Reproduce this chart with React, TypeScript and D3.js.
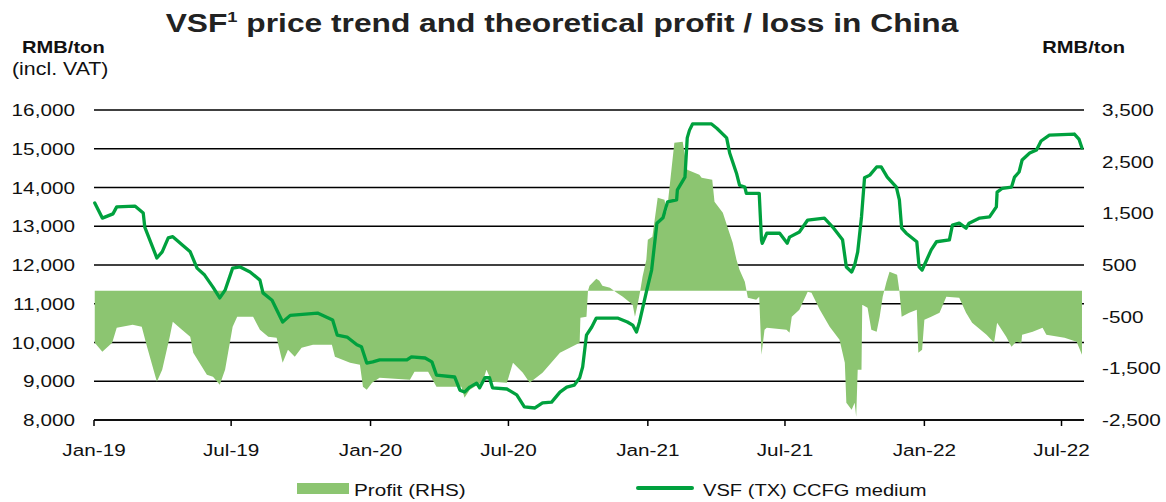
import React from 'react';
import * as d3 from 'd3';

const W = 1166;
const H = 502;
const SX = 1.22; // the reference text is stretched horizontally
const FONT = '"Liberation Sans", Arial, sans-serif';
const LINE_COLOR = '#00a13e';
const BAR_COLOR = '#8cc571';

const leftTicks = [8000, 9000, 10000, 11000, 12000, 13000, 14000, 15000, 16000];
const rightTicks = [-2500, -1500, -500, 500, 1500, 2500, 3500];
const xTickDates = ['2019-01-01', '2019-07-01', '2020-01-01', '2020-07-01', '2021-01-01', '2021-07-01', '2022-01-01', '2022-07-01'];
const xTickLabels = ['Jan-19', 'Jul-19', 'Jan-20', 'Jul-20', 'Jan-21', 'Jul-21', 'Jan-22', 'Jul-22'];

// VSF (TX) CCFG medium, RMB/ton (LHS)
const priceSeries: [string, number][] = [
  ['2019-01-02', 13600], ['2019-01-12', 13210], ['2019-01-26', 13320], ['2019-01-31', 13500],
  ['2019-02-24', 13520], ['2019-03-07', 13340], ['2019-03-09', 12980], ['2019-03-25', 12180],
  ['2019-04-01', 12340], ['2019-04-09', 12700], ['2019-04-15', 12730], ['2019-04-28', 12510],
  ['2019-05-08', 12340], ['2019-05-17', 11920], ['2019-05-27', 11740], ['2019-06-07', 11430],
  ['2019-06-16', 11150], ['2019-06-23', 11350], ['2019-07-03', 11920], ['2019-07-13', 11950],
  ['2019-07-26', 11820], ['2019-08-08', 11610], ['2019-08-12', 11280], ['2019-08-24', 11090],
  ['2019-09-07', 10530], ['2019-09-17', 10700], ['2019-10-23', 10760], ['2019-11-12', 10580],
  ['2019-11-18', 10190], ['2019-12-01', 10140], ['2019-12-14', 9940], ['2019-12-20', 9890],
  ['2019-12-27', 9470], ['2020-01-04', 9500], ['2020-01-13', 9550], ['2020-02-18', 9550],
  ['2020-02-24', 9630], ['2020-03-13', 9600], ['2020-03-22', 9500], ['2020-03-28', 9160],
  ['2020-04-21', 9110], ['2020-04-28', 8770], ['2020-05-04', 8720], ['2020-05-11', 8850],
  ['2020-05-20', 8950], ['2020-05-24', 8830], ['2020-05-31', 9090], ['2020-06-06', 9090],
  ['2020-06-10', 8830], ['2020-06-29', 8800], ['2020-07-12', 8650], ['2020-07-22', 8340],
  ['2020-08-05', 8310], ['2020-08-15', 8440], ['2020-08-27', 8460], ['2020-09-07', 8720],
  ['2020-09-16', 8850], ['2020-09-26', 8900], ['2020-10-03', 9090], ['2020-10-07', 9370],
  ['2020-10-12', 10190], ['2020-10-19', 10400], ['2020-10-25', 10630], ['2020-11-22', 10630],
  ['2020-12-05', 10530], ['2020-12-12', 10450], ['2020-12-17', 10270], ['2020-12-21', 10530],
  ['2020-12-30', 11300], ['2021-01-06', 11870], ['2021-01-13', 13080], ['2021-01-21', 13220],
  ['2021-01-27', 13630], ['2021-02-08', 13680], ['2021-02-09', 13940], ['2021-02-19', 14270],
  ['2021-02-22', 15280], ['2021-02-25', 15480], ['2021-03-01', 15640], ['2021-03-26', 15640],
  ['2021-04-02', 15530], ['2021-04-15', 15280], ['2021-04-19', 14890], ['2021-04-28', 14370],
  ['2021-05-02', 14060], ['2021-05-09', 14010], ['2021-05-11', 13850], ['2021-05-28', 13850],
  ['2021-05-31', 12650], ['2021-06-01', 12560], ['2021-06-07', 12820], ['2021-06-24', 12820],
  ['2021-07-04', 12560], ['2021-07-07', 12720], ['2021-07-20', 12850], ['2021-07-31', 13160],
  ['2021-08-22', 13210], ['2021-09-02', 12980], ['2021-09-15', 12650], ['2021-09-20', 11950],
  ['2021-09-27', 11820], ['2021-10-01', 12000], ['2021-10-05', 12340], ['2021-10-10', 13240],
  ['2021-10-14', 14250], ['2021-10-21', 14320], ['2021-10-30', 14530], ['2021-11-05', 14530],
  ['2021-11-13', 14270], ['2021-11-25', 14010], ['2021-11-29', 13680], ['2021-12-02', 12950],
  ['2021-12-08', 12820], ['2021-12-22', 12600], ['2021-12-25', 11950], ['2021-12-29', 11870],
  ['2022-01-04', 12130], ['2022-01-10', 12390], ['2022-01-17', 12600], ['2022-02-03', 12650],
  ['2022-02-07', 13030], ['2022-02-16', 13080], ['2022-02-25', 12950], ['2022-03-01', 13080],
  ['2022-03-15', 13210], ['2022-03-28', 13240], ['2022-04-06', 13500], ['2022-04-07', 13880],
  ['2022-04-14', 13980], ['2022-04-26', 14010], ['2022-04-30', 14270], ['2022-05-06', 14400],
  ['2022-05-10', 14710], ['2022-05-20', 14890], ['2022-05-29', 14970], ['2022-06-04', 15200],
  ['2022-06-15', 15350], ['2022-07-18', 15380], ['2022-07-24', 15250], ['2022-07-28', 15020],
];

// Theoretical profit, RMB/ton (RHS)
const profitSeries: [string, number][] = [
  ['2019-01-02', -1006], ['2019-01-12', -1180], ['2019-01-25', -1006], ['2019-01-31', -716],
  ['2019-02-21', -658], ['2019-03-05', -697], ['2019-03-12', -1084], ['2019-03-25', -1761],
  ['2019-04-01', -1529], ['2019-04-11', -890], ['2019-04-15', -600], ['2019-04-24', -716],
  ['2019-05-08', -890], ['2019-05-12', -1200], ['2019-05-30', -1626], ['2019-06-07', -1665],
  ['2019-06-16', -1819], ['2019-06-23', -1529], ['2019-07-03', -697], ['2019-07-09', -503],
  ['2019-07-30', -503], ['2019-08-08', -755], ['2019-08-19', -890], ['2019-08-30', -910],
  ['2019-09-07', -1394], ['2019-09-14', -1142], ['2019-09-23', -1277], ['2019-10-02', -1103],
  ['2019-10-17', -1045], ['2019-11-11', -1045], ['2019-11-15', -1277], ['2019-12-05', -1394],
  ['2019-12-18', -1432], ['2019-12-22', -1858], ['2019-12-27', -1916], ['2020-01-03', -1780],
  ['2020-01-13', -1684], ['2020-02-22', -1722], ['2020-02-28', -1568], ['2020-03-17', -1568],
  ['2020-03-28', -1858], ['2020-04-30', -1858], ['2020-05-04', -2071], ['2020-05-11', -1916],
  ['2020-05-28', -1761], ['2020-06-02', -1529], ['2020-06-09', -1761], ['2020-06-29', -1780],
  ['2020-07-07', -1394], ['2020-07-20', -1587], ['2020-07-29', -1780], ['2020-08-15', -1587],
  ['2020-09-07', -1200], ['2020-09-20', -1103], ['2020-10-03', -1006], ['2020-10-04', -523],
  ['2020-10-12', -503], ['2020-10-14', 0], ['2020-10-16', 97], ['2020-10-25', 232],
  ['2020-10-29', 194], ['2020-11-02', 97], ['2020-11-12', 58], ['2020-11-21', -39],
  ['2020-11-29', -116], ['2020-12-12', -271], ['2020-12-15', -503], ['2020-12-19', -232],
  ['2020-12-22', 0], ['2020-12-25', 271], ['2020-12-30', 600], ['2021-01-01', 987],
  ['2021-01-07', 1045], ['2021-01-14', 1800], ['2021-01-23', 1761], ['2021-01-26', 1510],
  ['2021-02-05', 2864], ['2021-02-16', 2884], ['2021-02-22', 2342], ['2021-03-10', 2245],
  ['2021-03-13', 2187], ['2021-03-27', 2148], ['2021-03-30', 1722], ['2021-04-10', 1510],
  ['2021-04-16', 1239], ['2021-04-23', 929], ['2021-04-28', 600], ['2021-05-02', 406],
  ['2021-05-09', 174], ['2021-05-13', -135], ['2021-05-24', -174], ['2021-05-28', -116],
  ['2021-05-31', -1239], ['2021-06-04', -755], ['2021-06-07', -716], ['2021-07-03', -755],
  ['2021-07-07', -813], ['2021-07-10', -503], ['2021-07-20', -368], ['2021-07-31', -19],
  ['2021-08-05', -39], ['2021-08-16', -368], ['2021-08-29', -697], ['2021-09-11', -948],
  ['2021-09-18', -1394], ['2021-09-20', -2168], ['2021-09-27', -2303], ['2021-10-01', -2168],
  ['2021-10-03', -2439], ['2021-10-05', -1529], ['2021-10-10', -1529], ['2021-10-11', -271],
  ['2021-10-18', -329], ['2021-10-23', -755], ['2021-10-30', -793], ['2021-11-03', -503],
  ['2021-11-07', -116], ['2021-11-12', 174], ['2021-11-16', 368], ['2021-11-26', 310],
  ['2021-11-29', 0], ['2021-12-02', -503], ['2021-12-12', -426], ['2021-12-22', -368],
  ['2021-12-24', -1200], ['2021-12-29', -1142], ['2022-01-01', -561], ['2022-01-10', -503],
  ['2022-01-21', -426], ['2022-01-30', -116], ['2022-02-16', -135], ['2022-02-25', -426],
  ['2022-03-05', -619], ['2022-03-24', -852], ['2022-04-03', -1006], ['2022-04-07', -619],
  ['2022-04-19', -890], ['2022-04-26', -1084], ['2022-05-02', -987], ['2022-05-09', -1006],
  ['2022-05-10', -852], ['2022-05-24', -793], ['2022-06-06', -716], ['2022-06-11', -852],
  ['2022-07-05', -910], ['2022-07-21', -987], ['2022-07-28', -1239],
];

const parse = d3.timeParse('%Y-%m-%d');
const fmt = (v: number) => d3.format(',')(v).replace('\u2212', '-');

const SText: React.FC<{
  x: number; y: number; size: number; anchor?: string; weight?: string | number; children: React.ReactNode;
}> = ({ x, y, size, anchor = 'start', weight = 'normal', children }) => (
  <text
    transform={`translate(${x},${y}) scale(${SX},1)`}
    textAnchor={anchor as any}
    fontSize={size}
    fontWeight={weight}
    fontFamily={FONT}
    fill="#111"
  >
    {children}
  </text>
);

export default function App() {
  const x = d3.scaleTime()
    .domain([parse('2019-01-01')!, parse('2022-08-01')!])
    .range([94, 1085]);
  const yL = d3.scaleLinear().domain([8000, 16000]).range([420, 110]);
  const yR = d3.scaleLinear().domain([-2500, 3500]).range([420, 110]);

  const price = priceSeries.map(([d, v]) => ({ date: parse(d)!, value: v }));
  const profit = profitSeries.map(([d, v]) => ({ date: parse(d)!, value: v }));

  const area = d3.area<{ date: Date; value: number }>()
    .x(d => x(d.date))
    .y0(yR(0))
    .y1(d => yR(d.value));

  const line = d3.line<{ date: Date; value: number }>()
    .x(d => x(d.date))
    .y(d => yL(d.value));

  const [gx0, gx1] = [94, 1084];

  return (
    <div style={{ position: 'absolute', left: 0, top: 0 }}>
      <svg width={W} height={H} style={{ display: 'block', background: '#fff' }}>
        {/* gridlines */}
        {leftTicks.map(t => (
          <line key={t} x1={gx0} x2={gx1} y1={yL(t)} y2={yL(t)} stroke="#000" strokeWidth={1.7} />
        ))}

        {/* profit bars */}
        <path d={area(profit) || ''} fill={BAR_COLOR} />

        {/* price line */}
        <path d={line(price) || ''} fill="none" stroke={LINE_COLOR} strokeWidth={3.3} strokeLinejoin="round" strokeLinecap="round" />

        {/* x axis */}
        <line x1={gx0} x2={gx1} y1={yL(8000)} y2={yL(8000)} stroke="#000" strokeWidth={1.7} />
        {xTickDates.map((d, i) => {
          const px = x(parse(d)!);
          return (
            <g key={d}>
              <line x1={px} x2={px} y1={yL(8000)} y2={yL(8000) + 6} stroke="#000" strokeWidth={1.5} />
              <SText x={px} y={456} size={17} anchor="middle">{xTickLabels[i]}</SText>
            </g>
          );
        })}

        {/* left axis labels */}
        {leftTicks.map(t => (
          <SText key={t} x={75} y={yL(t) + 6} size={17} anchor="end">{fmt(t)}</SText>
        ))}

        {/* right axis labels */}
        {rightTicks.map(t => (
          <SText key={t} x={1102} y={yR(t) + 6} size={17}>{fmt(t)}</SText>
        ))}

        {/* title */}
        <text
          transform={`translate(562,32) scale(${SX},1)`}
          textAnchor="middle"
          fontSize={26}
          fontWeight="bold"
          fontFamily={FONT}
          fill="#222"
        >
          VSF<tspan fontSize={15} dy={-10}>1</tspan>
          <tspan dy={10}> price trend and theoretical profit / loss in China</tspan>
        </text>

        {/* axis titles */}
        <SText x={22} y={53} size={16.5} weight="bold">RMB/ton</SText>
        <SText x={12} y={75} size={17.5}>(incl. VAT)</SText>
        <SText x={1125} y={53} size={16.5} weight="bold" anchor="end">RMB/ton</SText>

        {/* legend */}
        <rect x={297} y={483} width={52} height={11} fill={BAR_COLOR} />
        <SText x={354} y={496} size={17}>Profit (RHS)</SText>
        <line x1={638} x2={692} y1={488} y2={488} stroke={LINE_COLOR} strokeWidth={4} strokeLinecap="round" />
        <SText x={703} y={496} size={16.5}>VSF (TX) CCFG medium</SText>
      </svg>
    </div>
  );
}
